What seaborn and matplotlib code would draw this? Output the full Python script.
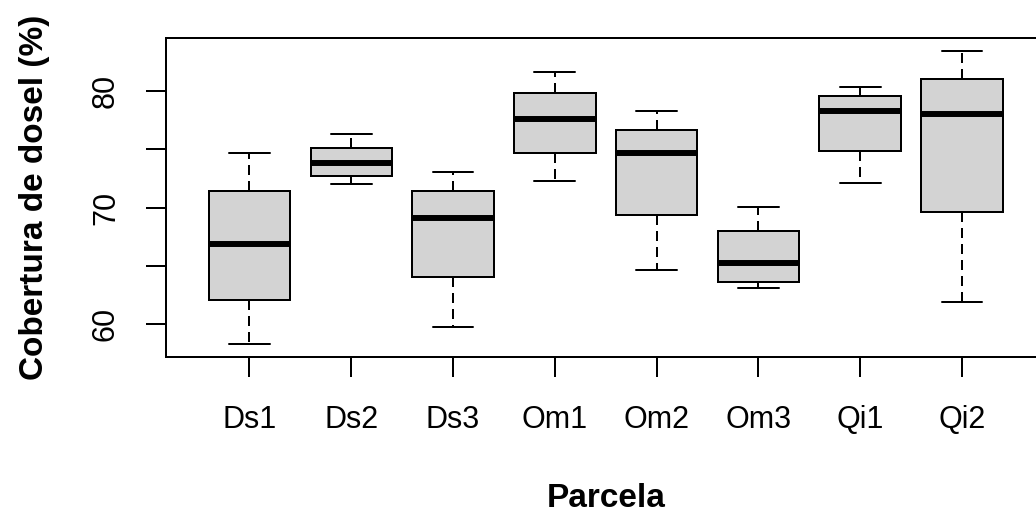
import numpy as np
import pandas as pd
import matplotlib
matplotlib.use("Agg")
import matplotlib.pyplot as plt
import seaborn as sns

# ---- data (five-number summaries) ----
categories = ["Ds1", "Ds2", "Ds3", "Om1", "Om2", "Om3", "Qi1", "Qi2"]
lower_whisker = [58.3, 72.0, 59.8, 72.3, 64.7, 63.1, 72.1, 61.9]
q1 = [62.1, 72.7, 64.1, 74.7, 69.4, 63.6, 74.9, 69.6]
median = [66.9, 73.8, 69.1, 77.6, 74.7, 65.3, 78.3, 78.0]
q3 = [71.4, 75.1, 71.4, 79.8, 76.7, 68.0, 79.6, 81.0]
upper_whisker = [74.7, 76.3, 73.1, 81.6, 78.3, 70.1, 80.3, 83.4]

y_ticks = [60, 65, 70, 75, 80]
y_ticklabels = ["60", "", "70", "", "80"]
x_title = "Parcela"
y_title = "Cobertura de dosel (%)"

rows = []
for i, c in enumerate(categories):
    for v in (lower_whisker[i], q1[i], median[i], q3[i], upper_whisker[i]):
        rows.append({"Parcela": c, "Cobertura": v})
df = pd.DataFrame(rows)

sns.set_theme(style="ticks")
plt.rcParams["font.family"] = ["Liberation Sans", "DejaVu Sans"]

fig = plt.figure(figsize=(10.36, 5.16), dpi=100)
ax = fig.add_axes([0.1602, 0.3081, 0.8489, 0.6182])

lw = 1.44
sns.boxplot(
    data=df, x="Parcela", y="Cobertura", order=categories, ax=ax,
    whis=(0, 100), width=0.8, color="#D3D3D3", linecolor="black",
    linewidth=lw, saturation=1,
    boxprops=dict(facecolor="#D3D3D3", edgecolor="black", linewidth=lw),
    whiskerprops=dict(color="black", linewidth=lw, linestyle=(0, (5, 3))),
    capprops=dict(color="black", linewidth=lw, linestyle="-"),
    medianprops=dict(color="black", linewidth=4.3, solid_capstyle="butt"),
    showfliers=False,
)

ax.set_xlim(-0.82, 7.82)
ax.set_ylim(57.20, 84.54)
ax.set_yticks(y_ticks)
ax.set_yticklabels(y_ticklabels, rotation=90, va="center")
ax.set_xticks(range(len(categories)))
ax.set_xticklabels(categories)

for s in ax.spines.values():
    s.set_visible(True)
    s.set_color("black")
    s.set_linewidth(lw)

ax.tick_params(axis="both", direction="out", length=14.4, width=lw,
               color="black", labelsize=22, labelcolor="black")
ax.tick_params(axis="x", pad=20)
ax.tick_params(axis="y", pad=18)

ax.set_xlabel(x_title, fontsize=24, fontweight="bold", color="black", va="top")
ax.set_ylabel(y_title, fontsize=24, fontweight="bold", color="black")
ax.xaxis.set_label_coords(0.5, -0.396)
ax.yaxis.set_label_coords(-0.132, 0.5)

fig.savefig("out.png", dpi=100, facecolor="white")
